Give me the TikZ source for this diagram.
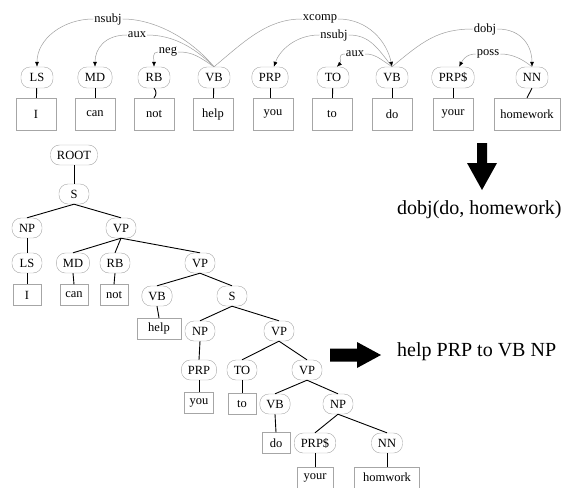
\documentclass[tikz,border=0pt]{standalone}
\usepackage{fontspec}
\setmainfont{Liberation Serif}
\usetikzlibrary{arrows.meta}

\begin{document}
\begin{tikzpicture}[x=1pt,y=-1pt,
  lbl/.style={font=\fontsize{12.5}{14}\selectfont},
  tag/.style={lbl, draw=gray!70, rounded corners=9pt, minimum width=32pt, minimum height=21pt, inner xsep=7pt, inner ysep=0pt},
  word/.style={lbl, draw=gray!70, minimum width=40pt, minimum height=32pt, inner xsep=6.5pt, inner ysep=0pt},
  ttag/.style={lbl, draw=gray!70, rounded corners=9pt, minimum width=30pt, minimum height=20pt, inner xsep=6.5pt, inner ysep=0pt},
  tword/.style={lbl, draw=gray!70, minimum width=28pt, minimum height=21pt, inner xsep=5pt, inner ysep=0pt},
  dep/.style={draw=gray!75, line width=0.5pt},
  deparrow/.style={dep, -{Latex[length=5pt,width=4pt,black]}},
  deplab/.style={lbl, fill=white, inner sep=1pt},
  link/.style={draw=black, line width=0.9pt},
  big/.style={font=\fontsize{20}{24}\selectfont, inner sep=0pt, anchor=west},
]
\clip (0,0) rectangle (564,487);

% ---------- dependency graph ----------
\node[tag] (LS)  at (37,77.5)  {LS};
\node[tag] (MD)  at (95,77.5)  {MD};
\node[tag] (RB)  at (154,77.5) {RB};
\node[tag] (hVB) at (214,77.5) {VB};
\node[tag] (PRP) at (270,77.5) {PRP};
\node[tag] (TO)  at (333,77.5) {TO};
\node[tag] (dVB) at (392,77.5) {VB};
\node[tag] (PD)  at (453,77.5) {PRP\$};
\node[tag] (NN)  at (532,77.5) {NN};

\node[word] (wI)    at (36,114)  {I};
\node[word] (wcan)  at (95,114)  {can};
\node[word] (wnot)  at (154,114) {not};
\node[word] (whelp) at (213,114) {help};
\node[word] (wyou)  at (273,114) {you};
\node[word] (wto)   at (332,114) {to};
\node[word] (wdo)   at (392,114) {do};
\node[word] (wyour) at (453,114) {your};
\node[word] (whw)   at (527,114) {homework};

\draw[link] (LS) -- (wI);
\draw[link] (MD) -- (wcan);
\draw[link] (RB.south) to[bend left=45] (wnot.north);
\draw[link] (hVB) -- (whelp);
\draw[link] (PRP.south) -- (wyou.north -| PRP.south);
\draw[link] (TO) -- (wto);
\draw[link] (dVB) -- (wdo);
\draw[link] (PD) -- (wyour);
\draw[link] (NN.south) -- (whw.north);

\node[deplab] (l1) at (108,19) {nsubj};
\node[deplab] (l2) at (137,35) {aux};
\node[deplab] (l3) at (168,52) {neg};
\node[deplab] (l4) at (320,19) {xcomp};
\node[deplab] (l5) at (334,35) {nsubj};
\node[deplab] (l6) at (355,54) {aux};
\node[deplab] (l7) at (485,29) {dobj};
\node[deplab] (l8) at (488,54) {poss};

\draw[dep] (hVB.north) .. controls +(-25,-30) and +(30,0) .. (l1.east);
\draw[deparrow] (l1.west) .. controls +(-30,0) and +(0,-28) .. (LS.north);
\draw[dep] (hVB.north) .. controls +(-20,-20) and +(25,0) .. (l2.east);
\draw[deparrow] (l2.west) .. controls +(-22,0) and +(0,-18) .. (MD.north);
\draw[dep] (hVB.north) .. controls +(-15,-10) and +(15,0) .. (l3.east);
\draw[deparrow] (l3.west) .. controls +(-6,0) and +(0,-8) .. (RB.north);

\draw[dep] (hVB.north) .. controls +(30,-25) and +(-35,0) .. (l4.west);
\draw[deparrow] (l4.east) .. controls +(30,0) and +(-5,-25) .. (dVB.north);
\draw[dep] (dVB.north) .. controls +(-15,-20) and +(20,0) .. (l5.east);
\draw[deparrow] (l5.west) .. controls +(-25,0) and +(5,-15) .. (PRP.70);
\draw[dep] (dVB.north) .. controls +(-12,-8) and +(10,0) .. (l6.east);
\draw[deparrow] (l6.west) .. controls +(-8,0) and +(5,-5) .. (TO.70);
\draw[dep] (dVB.north) .. controls +(30,-25) and +(-35,0) .. (l7.west);
\draw[deparrow] (l7.east) .. controls +(25,0) and +(0,-20) .. (NN.north);
\draw[dep] (NN.north) .. controls +(-10,-8) and +(12,0) .. (l8.east);
\draw[deparrow] (l8.west) .. controls +(-10,0) and +(3,-6) .. (PD.60);

% ---------- phrase structure tree ----------
\node[ttag] (R)   at (74,155)  {ROOT};
\node[ttag] (S1)  at (74,194)  {S};
\node[ttag] (NP1) at (27,228)  {NP};
\node[ttag] (VP1) at (121,228) {VP};
\node[ttag] (LS2) at (27,263)  {LS};
\node[ttag] (MD2) at (73,263)  {MD};
\node[ttag] (RB2) at (115,263) {RB};
\node[ttag] (VP2) at (200,263) {VP};
\node[tword] (I2)   at (27,295)  {I};
\node[tword] (can2) at (74,295)  {can};
\node[tword] (not2) at (114,295) {not};
\node[ttag] (VB2) at (157,296) {VB};
\node[ttag] (S2)  at (232,296) {S};
\node[tword, minimum width=44pt] (help2) at (159,328.5) {help};
\node[ttag] (NP2) at (200,331) {NP};
\node[ttag] (VP3) at (279,331) {VP};
\node[ttag] (PRP2) at (199,370) {PRP};
\node[ttag] (TO2) at (242,370) {TO};
\node[ttag] (VP4) at (307,370) {VP};
\node[tword] (you2) at (199,403) {you};
\node[tword] (to2)  at (242,404) {to};
\node[ttag] (VB3) at (275,404) {VB};
\node[ttag] (NP3) at (338,404) {NP};
\node[tword] (do2)  at (276,443) {do};
\node[ttag] (PD2) at (315,443) {PRP\$};
\node[ttag] (NN2) at (387,443) {NN};
\node[tword, minimum width=36pt] (your2) at (315,477.5) {your};
\node[tword, minimum width=65pt] (hw2) at (387,477.5) {homwork};

\foreach \p/\c in {R/S1, S1/NP1, S1/VP1, NP1/LS2, VP1/MD2, VP1/RB2, VP1/VP2,
                   LS2/I2, MD2/can2, RB2/not2, VP2/VB2, VP2/S2, VB2/help2,
                   S2/NP2, S2/VP3, NP2/PRP2, PRP2/you2, VP3/TO2, VP3/VP4,
                   TO2/to2, VP4/VB3, VP4/NP3, VB3/do2, NP3/PD2, NP3/NN2,
                   PD2/your2, NN2/hw2}
  \draw[link] (\p.south) -- (\c.north);

% ---------- result arrows and texts ----------
\fill (477,143) -- (487,143) -- (487,163) -- (497,163) -- (482,190)
      -- (467,163) -- (477,163) -- cycle;
\node[big] (res1) at (397,210) {dobj(do, homework)};

\fill (330,348.5) -- (357,348.5) -- (357,342) -- (381,355) -- (357,368)
      -- (357,361.5) -- (330,361.5) -- cycle;
\node[big] (res2) at (397,352) {help PRP to VB NP};
\end{tikzpicture}
\end{document}
